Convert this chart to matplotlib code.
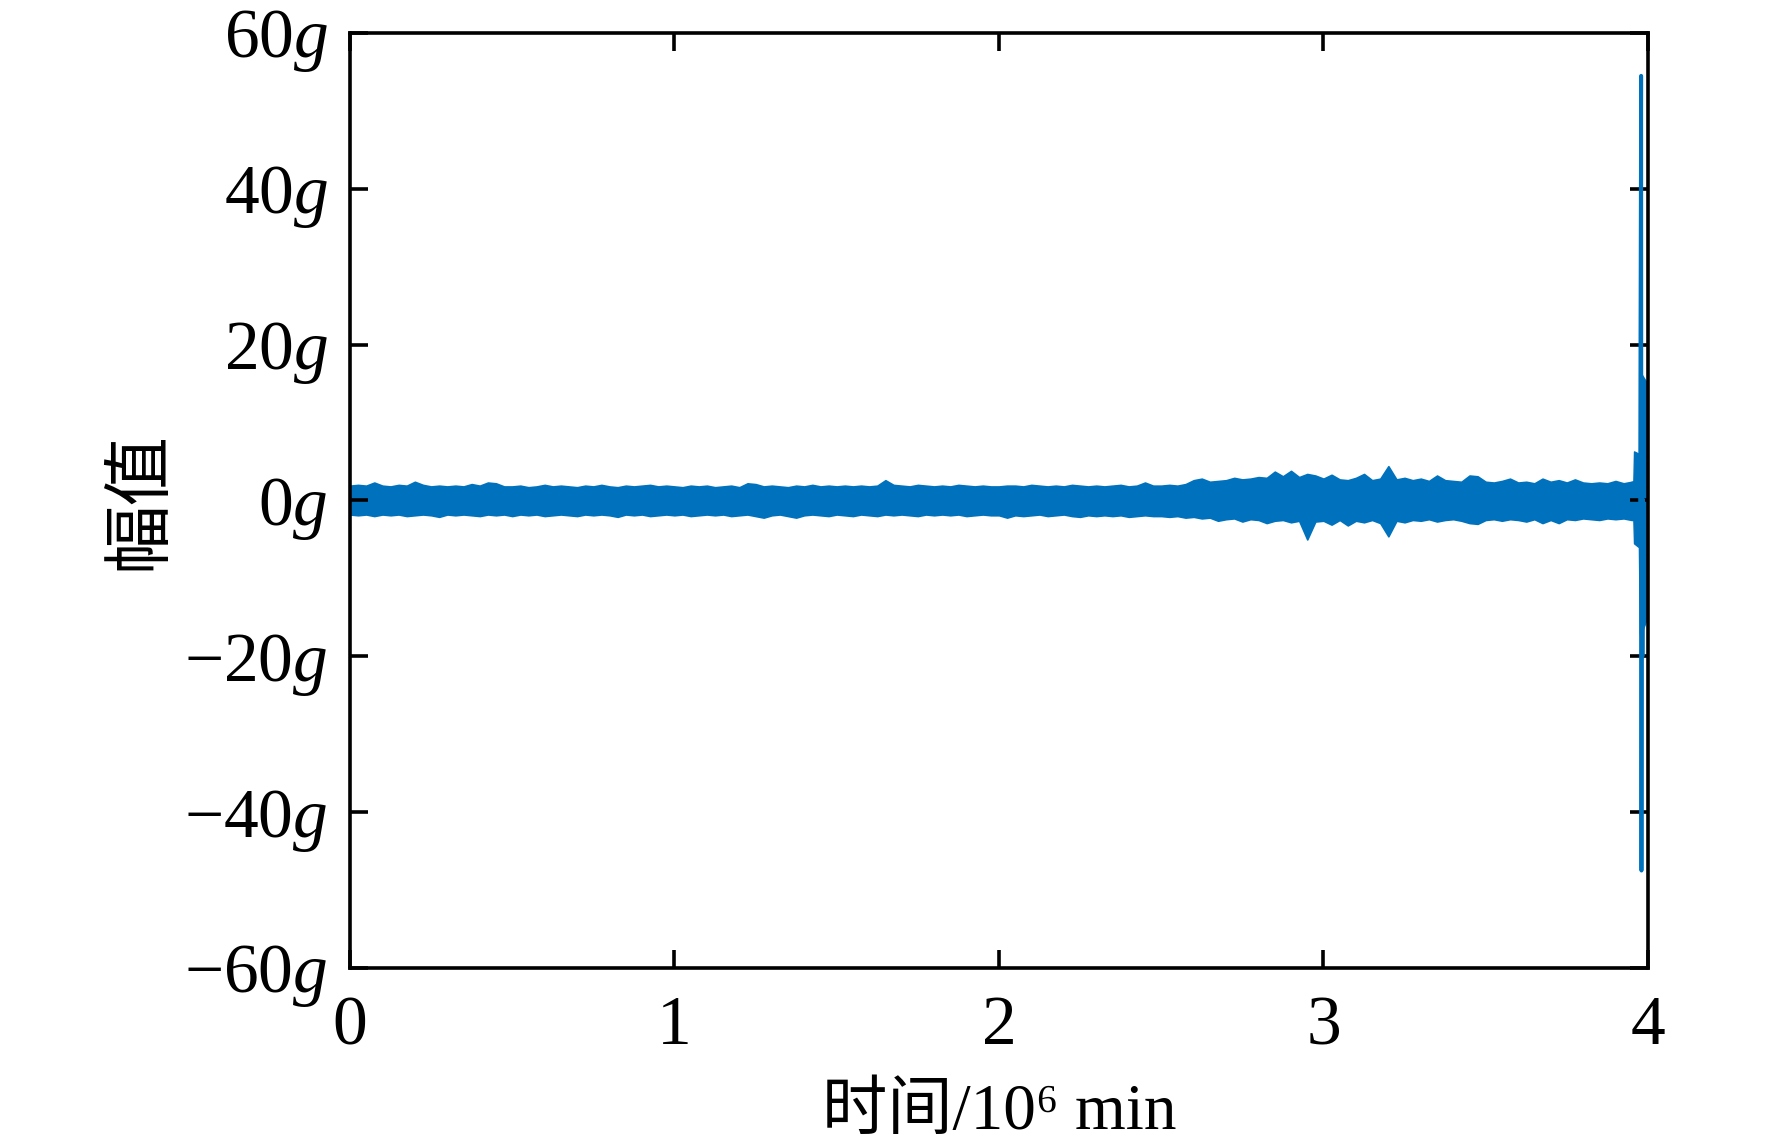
import numpy as np
import matplotlib
matplotlib.use('Agg')
import matplotlib.pyplot as plt

# envelope of the vibration signal, every 0.025 (x10^6 min)
t_step = 0.025
upper = [
    1.9, 2.0, 1.9, 2.3, 1.9, 1.8, 2.0, 1.9, 2.4, 2.0, 1.8, 1.9, 1.8, 1.9, 1.8, 2.1, 1.9, 2.3, 2.2, 1.8,
    1.8, 1.9, 1.7, 1.8, 2.0, 1.8, 1.9, 1.8, 1.7, 1.9, 1.8, 2.0, 1.8, 1.7, 1.9, 1.8, 1.9, 2.0, 1.8, 1.9,
    1.8, 1.7, 1.9, 1.8, 1.9, 1.7, 1.8, 1.9, 1.7, 2.2, 2.1, 1.8, 1.9, 1.8, 1.7, 1.9, 1.8, 2.0, 1.8, 1.9,
    1.8, 1.9, 1.8, 1.9, 1.8, 1.9, 2.6, 2.0, 1.9, 1.8, 2.0, 1.9, 1.8, 1.9, 1.8, 2.0, 1.9, 1.8, 1.9, 1.8,
    1.8, 1.9, 1.9, 1.8, 2.0, 1.9, 1.8, 1.9, 1.8, 2.0, 1.9, 1.8, 1.9, 1.8, 1.9, 2.0, 1.8, 1.9, 2.3, 1.9,
    1.9, 2.0, 1.9, 2.1, 2.6, 2.8, 2.4, 2.5, 2.6, 2.9, 2.7, 2.8, 3.0, 2.9, 3.7, 3.1, 3.8, 3.0, 3.4, 3.2,
    2.8, 3.3, 2.7, 2.6, 2.9, 3.4, 2.6, 2.8, 4.4, 2.7, 2.9, 2.6, 2.8, 2.5, 3.2, 2.6, 2.5, 2.4, 3.2, 3.1,
    2.4, 2.3, 2.5, 2.8, 2.3, 2.4, 2.2, 2.8, 2.4, 2.6, 2.3, 2.7, 2.3, 2.2, 2.3, 2.2, 2.5, 2.2, 2.4,
]
lower = [
    -1.8, -1.9, -1.8, -2.0, -1.8, -1.9, -1.8, -2.0, -1.9, -1.8, -1.9, -2.1, -1.8, -1.9, -1.8, -1.9, -2.0, -1.8, -1.9, -1.8,
    -2.0, -1.8, -1.9, -1.8, -2.0, -1.9, -1.8, -1.9, -2.0, -1.8, -1.9, -1.8, -1.9, -2.1, -1.8, -1.9, -1.8, -2.0, -1.9, -1.8,
    -1.9, -1.8, -2.0, -1.9, -1.8, -1.9, -1.8, -2.0, -1.9, -1.8, -2.0, -2.2, -1.9, -1.8, -2.0, -2.2, -1.9, -1.8, -1.9, -2.0,
    -1.8, -1.9, -2.0, -1.8, -1.9, -2.0, -1.8, -1.9, -1.8, -1.9, -2.0, -1.8, -1.9, -1.8, -1.9, -1.8, -2.0, -1.9, -1.8, -1.9,
    -1.9, -2.2, -1.9, -2.0, -1.9, -1.8, -2.0, -1.9, -1.8, -2.0, -2.1, -1.9, -2.0, -1.9, -2.0, -1.9, -2.1, -2.0, -1.9, -2.0,
    -2.0, -2.1, -2.0, -2.2, -2.1, -2.3, -2.2, -2.6, -2.4, -2.3, -2.7, -2.4, -2.5, -2.9, -2.6, -2.5, -2.8, -2.6, -5.0, -2.7,
    -2.6, -3.1, -2.5, -3.2, -2.6, -2.8, -2.5, -2.9, -4.6, -2.6, -2.8, -2.5, -2.6, -2.4, -2.7, -2.5, -2.4, -2.6, -2.9, -3.0,
    -2.5, -2.4, -2.6, -2.4, -2.5, -2.7, -2.4, -2.9, -2.5, -2.9, -2.4, -2.5, -2.3, -2.4, -2.5, -2.3, -2.4, -2.3, -2.5,
]

# failure burst at the very end
burst_t = [3.95, 3.955, 3.957, 3.972, 3.975, 3.976, 3.998, 4.0]
burst_hi = [2.4, 2.5, 6.3, 6.0, 6.5, 16.5, 15.0, 15.0]
burst_lo = [-2.5, -2.5, -5.5, -6.0, -17.0, -17.5, -15.0, -15.0]
spike_t = [3.976, 3.977, 3.979, 3.980, 3.981, 3.983, 3.985]
spike_v = [0.0, 22.0, 54.5, -47.5, 10.0, -20.0, 0.0]

xticks = [0, 1, 2, 3, 4]
yticks = [-60, -40, -20, 0, 20, 40, 60]

blue = '#0072BD'
serif = ['Liberation Serif', 'Noto Sans CJK SC', 'DejaVu Serif']

plt.rcParams['font.family'] = serif
plt.rcParams['mathtext.fontset'] = 'custom'
plt.rcParams['mathtext.rm'] = 'Liberation Serif'
plt.rcParams['mathtext.it'] = 'Liberation Serif:italic'

t = np.arange(len(upper)) * t_step

fig = plt.figure(figsize=(17.72, 11.48), dpi=100)
ax = fig.add_axes([0.1975, 0.1568, 0.7325, 0.8145])

ax.fill_between(t, lower, upper, color=blue, linewidth=1.2, edgecolor=blue)
ax.fill_between(burst_t, burst_lo, burst_hi, color=blue, linewidth=1.0, edgecolor=blue)
ax.plot(spike_t, spike_v, color=blue, linewidth=2.8)

ax.set_xlim(0, 4)
ax.set_ylim(-60, 60)
ax.set_xticks(xticks)
ax.set_xticklabels([str(v) for v in xticks])
ax.set_yticks(yticks)
ax.set_yticklabels([('\u2212' if v < 0 else '') + str(abs(v)) + r'$\it{g}$' for v in yticks])

ax.tick_params(direction='in', length=13, width=2.6, top=True, right=True,
               labelsize=50, colors='black')
ax.tick_params(axis='x', pad=20)
ax.tick_params(axis='y', pad=16)
for sp in ax.spines.values():
    sp.set_linewidth(2.6)

fig.text(0.5637, 0.03, '时间/10⁶ min', ha='center', va='center', fontsize=47, family=serif)
fig.text(0.0796, 0.5637, '幅值', ha='center', va='center', rotation=90, fontsize=50, family=serif)

fig.savefig('out.png', dpi=100)
